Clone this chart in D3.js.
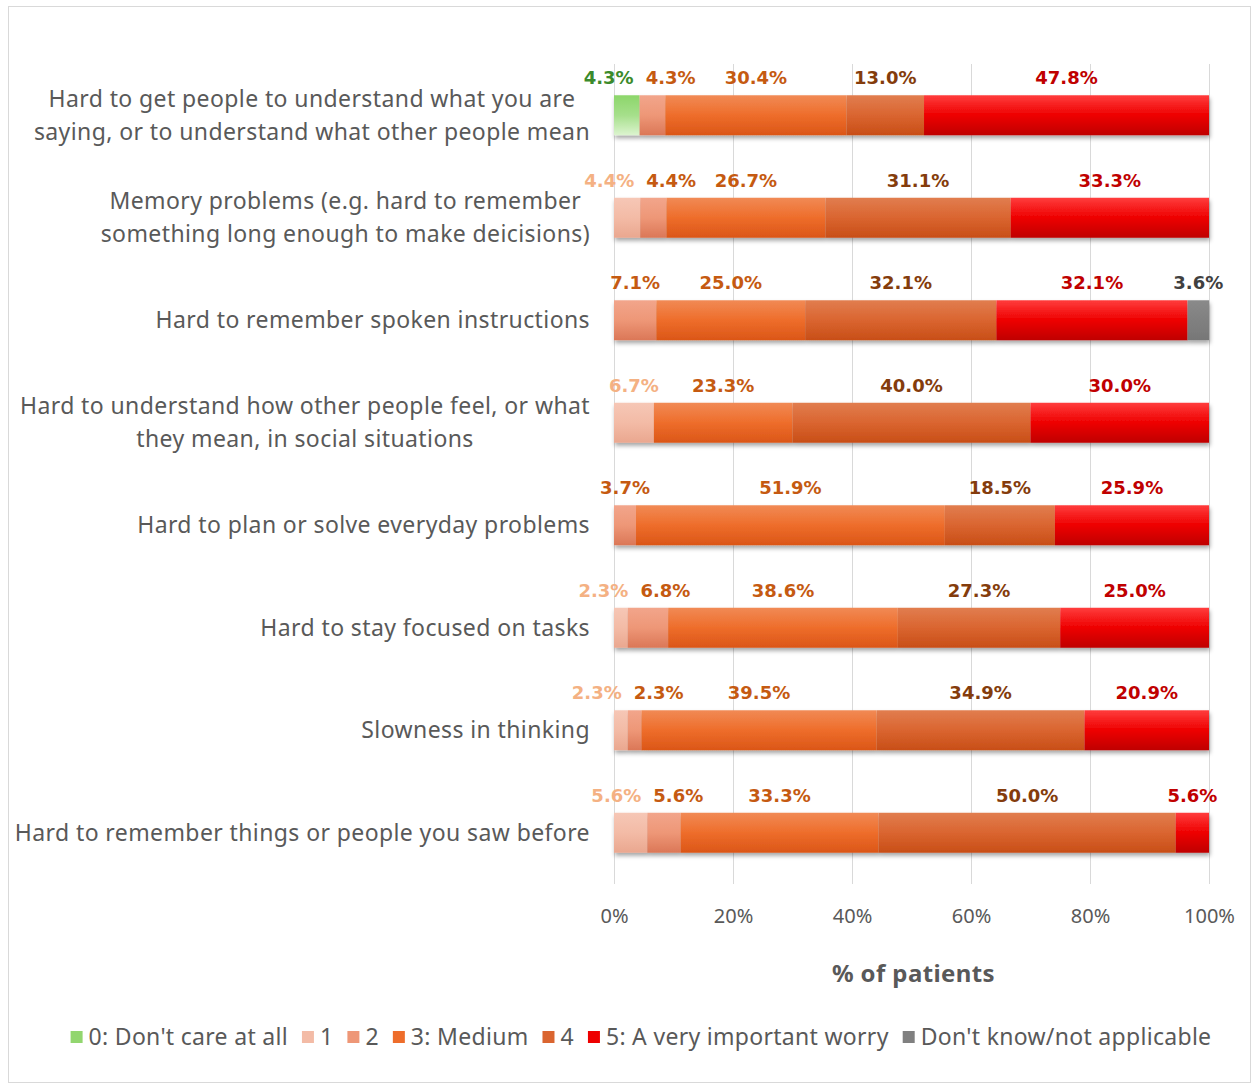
<!DOCTYPE html>
<html>
<head>
<meta charset="utf-8">
<script src="https://cdn.jsdelivr.net/npm/d3@7"></script>
<style>
  html, body { margin: 0; padding: 0; background: #fff; }
  svg { display: block; }
</style>
</head>
<body>
<svg id="chart" width="1252" height="1085"></svg>
<script>
// Worry items (top to bottom), one line per array entry
const categories = [
  ["Hard to get people to understand what you are", "saying, or to understand what other people mean"],
  ["Memory problems (e.g. hard to remember", "something long enough to make deicisions)"],
  ["Hard to remember spoken instructions"],
  ["Hard to understand how other people feel, or what", "they mean, in social situations"],
  ["Hard to plan or solve everyday problems"],
  ["Hard to stay focused on tasks"],
  ["Slowness in thinking"],
  ["Hard to remember things or people you saw before"]
];

// Response levels
const levels = ["0: Don't care at all", "1", "2", "3: Medium", "4", "5: A very important worry", "Don't know/not applicable"];

// Percentage of patients per level, one array per item (same order as categories)
const level0 = [4.3, 0, 0, 0, 0, 0, 0, 0];
const level1 = [0, 4.4, 0, 6.7, 0, 2.3, 2.3, 5.6];
const level2 = [4.3, 4.4, 7.1, 0, 3.7, 6.8, 2.3, 5.6];
const level3 = [30.4, 26.7, 25.0, 23.3, 51.9, 38.6, 39.5, 33.3];
const level4 = [13.0, 31.1, 32.1, 40.0, 18.5, 27.3, 34.9, 50.0];
const level5 = [47.8, 33.3, 32.1, 30.0, 25.9, 25.0, 20.9, 5.6];
const levelDK = [0, 0, 3.6, 0, 0, 0, 0, 0];

const xTicks = [0, 0.2, 0.4, 0.6, 0.8, 1.0];
const xTitle = "% of patients";

// Styling
const barStops = [
  ["#8cd66a", "#a6df8b", "#dcf4cf"],
  ["#f6c7b6", "#f3bba6", "#eaa78f"],
  ["#f2a58b", "#ee9777", "#db7757"],
  ["#f18a55", "#ee6d2b", "#db5617"],
  ["#e17d4f", "#da6530", "#c84e17"],
  ["#ff3d3d", "#ee0000", "#bf0000"],
  ["#8a8a8a", "#808080", "#777777"]
];
const legendColors = ["#92d66f", "#f3bba6", "#ee9777", "#ee6d2b", "#da6530", "#ee0000", "#808080"];
const labelColors = ["#3b8a2b", "#f4b183", "#c55a11", "#c55a11", "#843c0c", "#c00000", "#404040"];
const textGray = "#595959";

const series = [level0, level1, level2, level3, level4, level5, levelDK];
const rows = categories.map((c, i) => {
  const r = { key: i };
  levels.forEach((l, j) => { r[j] = series[j][i]; });
  return r;
});

const stack = d3.stack()
  .keys(levels.map((_, j) => j))
  .offset(d3.stackOffsetExpand);
const stacked = stack(rows);

const svg = d3.select("#chart");
const W = 1252, H = 1085;
const plot = { left: 614, right: 1209, top: 64, bottom: 884 };

// frame
svg.append("rect")
  .attr("x", 8.5).attr("y", 6.5)
  .attr("width", W - 10).attr("height", H - 9)
  .attr("fill", "#fff").attr("stroke", "#d9d9d9").attr("stroke-width", 1);

const defs = svg.append("defs");
barStops.forEach((s, j) => {
  const g = defs.append("linearGradient")
    .attr("id", "grad" + j)
    .attr("x1", 0).attr("y1", 0).attr("x2", 0).attr("y2", 1);
  g.append("stop").attr("offset", "0%").attr("stop-color", s[0]);
  g.append("stop").attr("offset", "50%").attr("stop-color", s[1]);
  g.append("stop").attr("offset", "100%").attr("stop-color", s[2]);
});
const shadow = defs.append("filter").attr("id", "shadow")
  .attr("x", "-5%").attr("y", "-20%").attr("width", "110%").attr("height", "160%");
shadow.append("feDropShadow")
  .attr("dx", 1).attr("dy", 3).attr("stdDeviation", 2)
  .attr("flood-color", "#000").attr("flood-opacity", 0.35);

const x = d3.scaleLinear().domain([0, 1]).range([plot.left, plot.right]);
const y = d3.scaleBand()
  .domain(categories.map((_, i) => i))
  .range([plot.top, plot.bottom])
  .paddingInner(0.61)
  .paddingOuter(0.305);

// vertical gridlines
svg.append("g").selectAll("line")
  .data(xTicks)
  .join("line")
  .attr("x1", d => x(d) + 0.5).attr("x2", d => x(d) + 0.5)
  .attr("y1", plot.top).attr("y2", plot.bottom)
  .attr("stroke", "#d9d9d9").attr("stroke-width", 1);

// bars
const rowG = svg.append("g").selectAll("g")
  .data(categories.map((_, i) => i))
  .join("g")
  .attr("filter", "url(#shadow)");

rowG.each(function (i) {
  d3.select(this).selectAll("rect")
    .data(stacked.map(s => ({ key: s.key, d: s[i] })).filter(o => o.d[1] - o.d[0] > 0))
    .join("rect")
    .attr("x", o => x(o.d[0]))
    .attr("width", o => x(o.d[1]) - x(o.d[0]))
    .attr("y", y(i))
    .attr("height", y.bandwidth())
    .attr("fill", o => `url(#grad${o.key})`);
});

// text measuring helper (canvas, honours letter-spacing via per-char addition)
const measureCtx = document.createElement("canvas").getContext("2d");
function textWidth(t, font, spacing = 0) {
  measureCtx.font = font;
  return measureCtx.measureText(t).width + spacing * t.length;
}

// value labels above the bars, nudged apart where they would collide
const labelFont = "bold 18px 'DejaVu Sans', sans-serif";
const labelG = svg.append("g");
categories.forEach((_, i) => {
  const items = stacked
    .map(s => ({ key: s.key, v: series[s.key][i], d: s[i] }))
    .filter(o => o.v > 0)
    .map(o => {
      const text = o.v.toFixed(1) + "%";
      return { ...o, text, w: textWidth(text, labelFont), cx: x((o.d[0] + o.d[1]) / 2) };
    });
  for (let iter = 0; iter < 20; iter++) {
    for (let k = 0; k < items.length - 1; k++) {
      const a = items[k], b = items[k + 1];
      const need = (a.w + b.w) / 2 + 12;
      const gap = b.cx - a.cx;
      if (gap < need) {
        const push = (need - gap) / 2;
        a.cx -= push; b.cx += push;
      }
    }
  }
  labelG.selectAll(null)
    .data(items)
    .join("text")
    .attr("x", o => o.cx)
    .attr("y", y(i) - 11)
    .attr("text-anchor", "middle")
    .style("font", labelFont)
    .attr("fill", o => labelColors[o.key])
    .text(o => o.text);
});

// category labels: centred text block ending at the plot edge
const catFont = "23px 'Noto Sans', sans-serif";
const catSpacing = 0.4;
const catRight = 590;
const lineH = 33;
const catG = svg.append("g");
categories.forEach((lines, i) => {
  const maxW = d3.max(lines, l => textWidth(l, catFont, catSpacing));
  const cx = catRight - maxW / 2;
  const cy = y(i) + y.bandwidth() / 2;
  const t = catG.append("text")
    .attr("x", cx)
    .attr("text-anchor", "middle")
    .style("font", catFont)
    .style("letter-spacing", catSpacing + "px")
    .attr("fill", textGray);
  lines.forEach((l, k) => {
    t.append("tspan")
      .attr("x", cx)
      .attr("y", cy + (k - (lines.length - 1) / 2) * lineH)
      .attr("dy", "0.35em")
      .text(l);
  });
});

// x axis
const axis = d3.axisBottom(x)
  .tickValues(xTicks)
  .tickFormat(d3.format(".0%"))
  .tickSize(0)
  .tickPadding(25);
const axG = svg.append("g")
  .attr("transform", `translate(0,${plot.bottom})`)
  .call(axis);
axG.select(".domain").remove();
axG.selectAll("text")
  .style("font", "20px 'Noto Sans', sans-serif")
  .attr("fill", textGray);

svg.append("text")
  .attr("x", (plot.left + plot.right) / 2 + 2)
  .attr("y", 982)
  .attr("text-anchor", "middle")
  .style("font", "bold 24px 'Noto Sans', sans-serif")
  .style("letter-spacing", "0.4px")
  .attr("fill", textGray)
  .text(xTitle);

// legend
const legFont = "23px 'Noto Sans', sans-serif";
const legSpacing = 0.3;
const mk = 12, mkGap = 6, itemGap = 14;
const widths = levels.map(l => textWidth(l, legFont, legSpacing));
const total = d3.sum(widths) + levels.length * (mk + mkGap) + (levels.length - 1) * itemGap;
let lx = 641 - total / 2;
const legY = 1037;
const legG = svg.append("g");
levels.forEach((l, j) => {
  legG.append("rect")
    .attr("x", lx).attr("y", legY - mk / 2)
    .attr("width", mk).attr("height", mk)
    .attr("fill", legendColors[j]);
  legG.append("text")
    .attr("x", lx + mk + mkGap)
    .attr("y", legY)
    .attr("dy", "0.35em")
    .style("font", legFont)
    .style("letter-spacing", legSpacing + "px")
    .attr("fill", textGray)
    .text(l);
  lx += mk + mkGap + widths[j] + itemGap;
});
</script>
</body>
</html>
